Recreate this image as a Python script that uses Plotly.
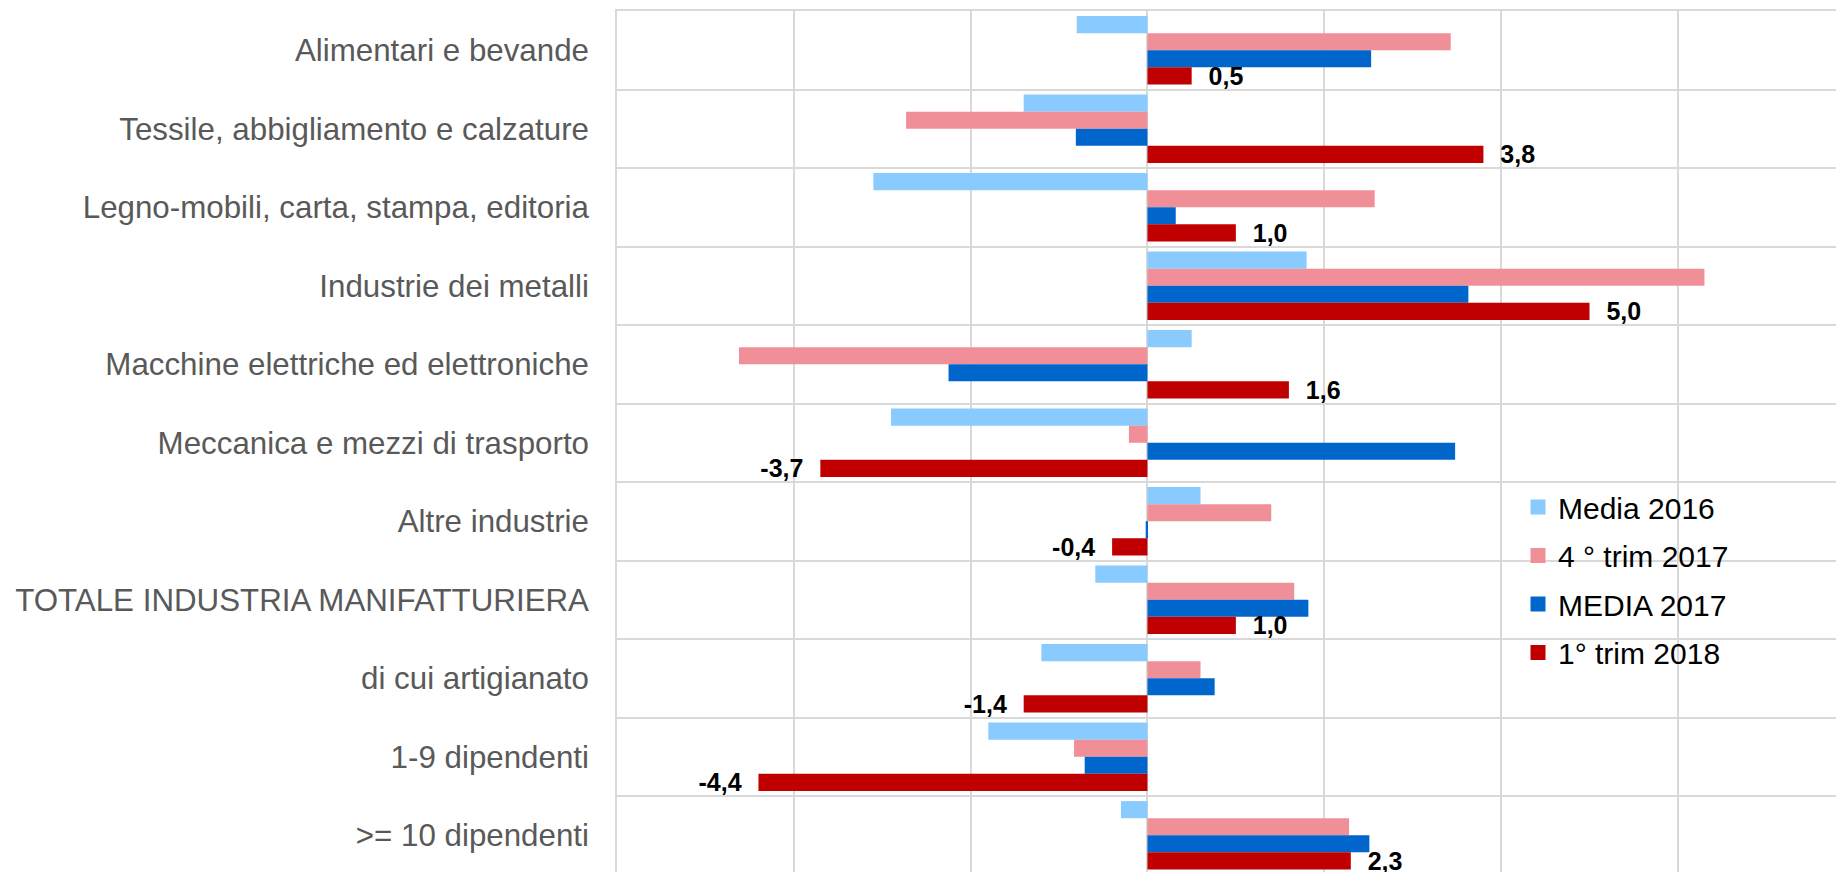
import plotly.graph_objects as go

categories = [
    "Alimentari e bevande",
    "Tessile, abbigliamento e calzature",
    "Legno-mobili, carta, stampa, editoria",
    "Industrie dei metalli",
    "Macchine elettriche ed elettroniche",
    "Meccanica e mezzi di trasporto",
    "Altre industrie",
    "TOTALE INDUSTRIA MANIFATTURIERA",
    "di cui artigianato",
    "1-9 dipendenti",
    ">= 10 dipendenti",
]

media_2016 = [-0.80, -1.40, -3.10, 1.80, 0.50, -2.90, 0.60, -0.59, -1.20, -1.80, -0.30]
trim4_2017 = [3.43, -2.73, 2.57, 6.30, -4.62, -0.21, 1.40, 1.66, 0.60, -0.83, 2.28]
media_2017 = [2.53, -0.81, 0.32, 3.63, -2.25, 3.48, -0.02, 1.82, 0.76, -0.71, 2.51]
trim1_2018 = [0.5, 3.8, 1.0, 5.0, 1.6, -3.7, -0.4, 1.0, -1.4, -4.4, 2.3]

series_names = ["Media 2016", "4 ° trim 2017", "MEDIA 2017", "1° trim 2018"]
series_values = [media_2016, trim4_2017, media_2017, trim1_2018]
colors = ["#89CAFF", "#F08F98", "#0066CC", "#C00000"]

FONT = "Liberation Sans, Arial, sans-serif"
GRID = "#D9D9D9"

fig = go.Figure()

pad = "\u00a0\u00a0"
label_text = []
for v in trim1_2018:
    s = f"{v:.1f}".replace(".", ",")
    label_text.append(pad + s if v >= 0 else s + pad)

for i, (name, vals, col) in enumerate(zip(series_names, series_values, colors)):
    kw = {}
    if i == 3:
        kw = dict(
            text=label_text,
            texttemplate="%{text}",
            textposition="outside",
            constraintext="none",
            textangle=0,
            cliponaxis=False,
            outsidetextfont=dict(family=FONT, size=25, color="#000000", weight="bold"),
        )
    fig.add_trace(go.Bar(
        y=categories, x=vals, orientation="h", name=name,
        marker=dict(color=col, line=dict(width=0)),
        showlegend=False, **kw,
    ))

for name, col in zip(series_names, colors):
    fig.add_trace(go.Scatter(
        x=[None], y=[None], mode="markers", name=name,
        marker=dict(symbol="square", size=15, color=col),
        legendgroup=name, showlegend=True,
    ))

fig.update_layout(
    width=1836, height=872,
    margin=dict(l=617, r=0, t=11, b=0, autoexpand=False),
    paper_bgcolor="white", plot_bgcolor="white",
    barmode="group", bargap=0.13, bargroupgap=0,
    font=dict(family=FONT),
    showlegend=True,
    legend=dict(
        xref="container", yref="container",
        x=1518 / 1836, y=1 - 481 / 872, xanchor="left", yanchor="top",
        font=dict(family=FONT, size=30, color="#000000"),
        bgcolor="rgba(0,0,0,0)", tracegroupgap=6.5,
        itemsizing="trace",
    ),
)

fig.update_xaxes(
    range=[-6, 7.788], dtick=2, tick0=0,
    showgrid=True, gridcolor=GRID, gridwidth=1.5,
    zeroline=True, zerolinecolor=GRID, zerolinewidth=1.5,
    showticklabels=False, ticks="",
    showline=True, linecolor=GRID, linewidth=1.5, side="top",
)
fig.update_yaxes(
    categoryorder="array", categoryarray=categories,
    range=[10.468, -0.5],
    tickson="boundaries", ticks="",
    showgrid=True, gridcolor=GRID, gridwidth=1.5,
    showline=True, linecolor=GRID, linewidth=1.5,
    tickfont=dict(family=FONT, size=31.3, color="#595959"),
    ticklabelstandoff=20,
)

fig.write_html("out.html")
